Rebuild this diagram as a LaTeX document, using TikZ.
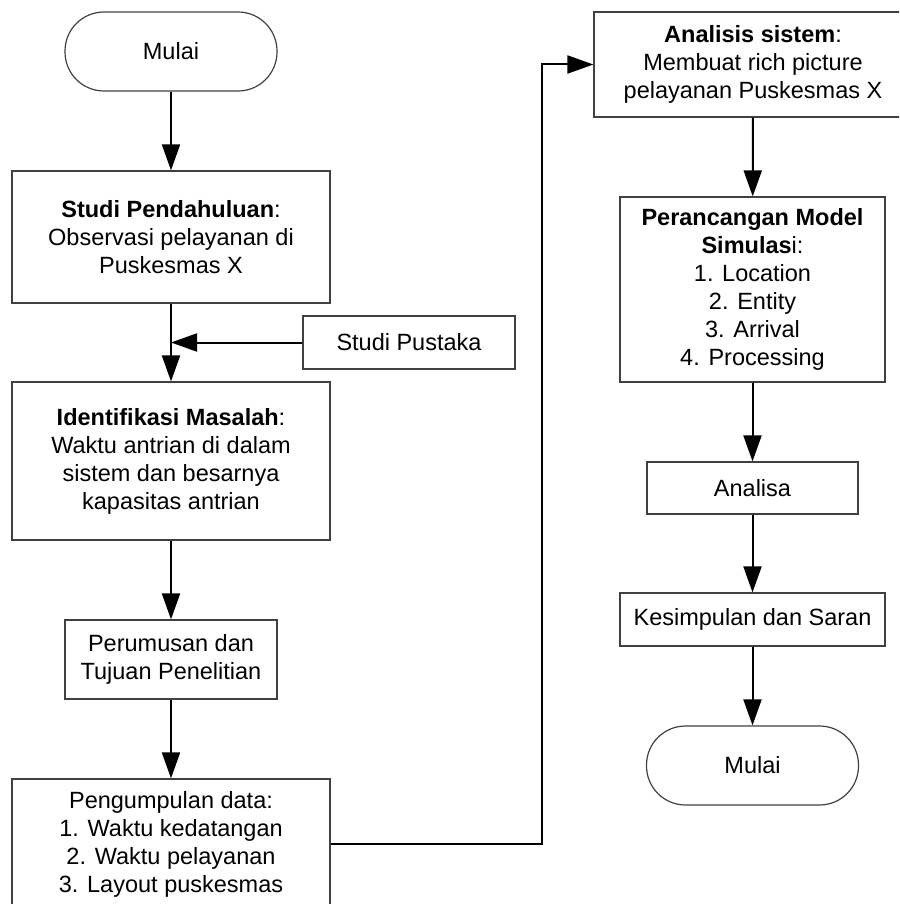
\documentclass[tikz,border=0pt]{standalone}
\usepackage{fontspec}
\setmainfont{Liberation Sans}
\usetikzlibrary{arrows.meta}
\colorlet{boxline}{black!75}
\colorlet{panahline}{black}

\begin{document}
\begin{tikzpicture}[x=1pt, y=-1pt,
    font=\fontsize{23.5pt}{28pt}\selectfont,
    kotak/.style={draw=boxline, line width=1.2pt, inner sep=0pt, align=center},
    terminal/.style={kotak, rounded corners=39pt, minimum width=212pt, minimum height=79pt},
    panah/.style={draw=panahline, line width=2pt, -{Triangle[width=18pt,length=26pt]}}]
        \useasboundingbox (0,0) rectangle (899,904);
        \clip (0,0) rectangle (899,904);
        % kolom kiri
        \node[terminal] (mulai) at (171,51.5) {Mulai};
        \node[kotak, minimum width=318pt, minimum height=132pt] (studi) at (171,237)
            {\textbf{Studi Pendahuluan}:\\Observasi pelayanan di\\Puskesmas X};
        \node[kotak, minimum width=212pt, minimum height=53pt] (pustaka) at (409,342.5) {Studi Pustaka};
        \node[kotak, minimum width=318pt, minimum height=158pt] (identifikasi) at (171,461)
            {\textbf{Identifikasi Masalah}:\\Waktu antrian di dalam\\sistem dan besarnya\\kapasitas antrian};
        \node[kotak, minimum width=212pt, minimum height=79pt] (perumusan) at (171,659.5)
            {Perumusan dan\\Tujuan Penelitian};
        \node[kotak, minimum width=318pt, minimum height=130pt] (pengumpulan) at (171,844)
            {Pengumpulan data:\\1. Waktu kedatangan\\2. Waktu pelayanan\\3. Layout puskesmas};
        % kolom kanan
        \node[kotak, minimum width=318pt, minimum height=105pt] (analisis) at (753,64.5)
            {\textbf{Analisis sistem}:\\Membuat rich picture\\pelayanan Puskesmas X};
        \node[kotak, minimum width=265pt, minimum height=185pt] (perancangan) at (752.5,289.5)
            {\textbf{Perancangan Model}\\\textbf{Simulas}i:\\1. Location\\2. Entity\\3. Arrival\\4. Processing};
        \node[kotak, minimum width=211pt, minimum height=52pt] (analisa) at (752.5,488) {Analisa};
        \node[kotak, minimum width=265pt, minimum height=53pt] (kesimpulan) at (752.5,619.5)
            {Kesimpulan dan Saran};
        \node[terminal] (selesai) at (752.5,765.5) {Mulai};
        \coordinate (belok) at (542,844);

        \draw[panah] (mulai) -- (studi);
        \draw[panah] (studi) -- (identifikasi);
        \draw[panah] (pustaka.west) -- (pustaka.west -| studi.south);
        \draw[panah] (identifikasi) -- (perumusan);
        \draw[panah] (perumusan) -- (pengumpulan);
        \draw[panah] (pengumpulan.east) -- (belok) |- (analisis.west);
        \draw[panah] (analisis) -- (perancangan);
        \draw[panah] (perancangan) -- (analisa);
        \draw[panah] (analisa) -- (kesimpulan);
        \draw[panah] (kesimpulan) -- (selesai);
    \end{tikzpicture}
\end{document}
